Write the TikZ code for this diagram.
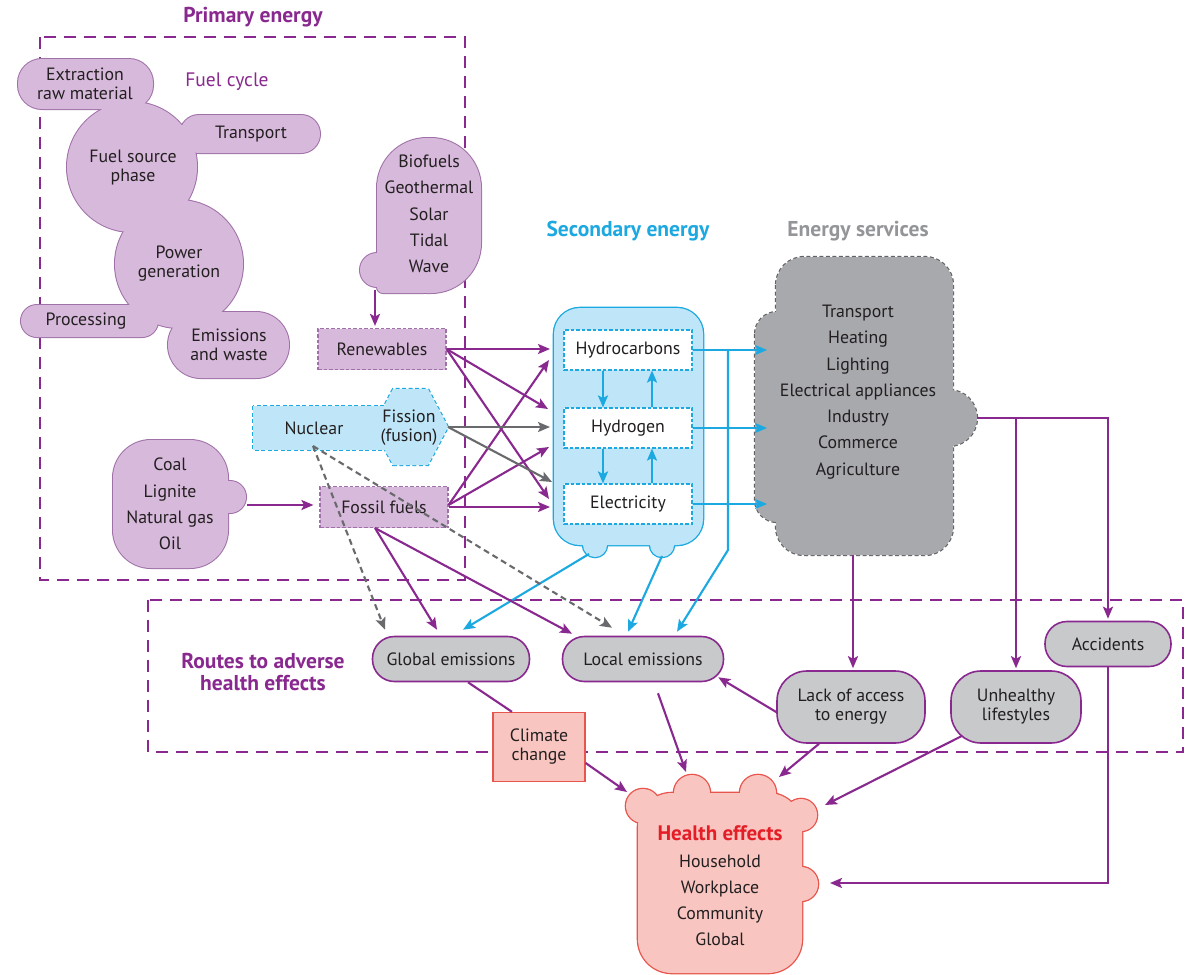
\documentclass[tikz,border=0pt]{standalone}
\usepackage{fontspec}
\setmainfont{PT Sans}
\usetikzlibrary{arrows.meta,calc}
\definecolor{purp}{RGB}{137,41,143}
\definecolor{lpurp}{RGB}{215,185,219}
\definecolor{purpedge}{RGB}{160,112,168}
\definecolor{cyanl}{RGB}{28,168,224}
\definecolor{lblue}{RGB}{190,230,248}
\definecolor{dgrey}{RGB}{167,169,172}
\definecolor{dgreyedge}{RGB}{98,98,100}
\definecolor{lgrey}{RGB}{200,201,203}
\definecolor{arrgrey}{RGB}{105,106,109}
\definecolor{pinkf}{RGB}{249,197,193}
\definecolor{redl}{RGB}{232,85,77}
\definecolor{redt}{RGB}{228,30,38}
\definecolor{txt}{RGB}{35,31,32}
\definecolor{estitle}{RGB}{147,149,152}

\newcommand{\FuelShapes}[1]{%
 \path[#1,rounded corners=24pt] (18,59) rectangle (153,109);
 \path[#1] (132,167) circle[radius=65pt];
 \path[#1,rounded corners=19pt] (180,115) rectangle (320,153);
 \path[#1] (179,264) circle[radius=64pt];
 \path[#1,rounded corners=16pt] (21,305) rectangle (158,337);
 \path[#1,rounded corners=33pt] (168,312) rectangle (289,378);
}
\newcommand{\RenShapes}[1]{%
 \path[#1,rounded corners=50pt] (377,138) rectangle (481,293);
 \path[#1,rounded corners=6pt] (377,230) rectangle (430,293);
 \path[#1] (377,270) circle[radius=17pt];
}
\newcommand{\CoalShapes}[1]{%
 \path[#1,rounded corners=38pt] (113,440) rectangle (228,568);
 \path[#1] (230,497) circle[radius=16pt];
}
\newcommand{\SecShapes}[1]{%
 \path[#1,rounded corners=26pt] (554,308) rectangle (703,545);
 \path[#1] (595,545) circle[radius=12pt];
 \path[#1] (662,545) circle[radius=12pt];
}
\newcommand{\ESShapes}[1]{%
 \path[#1,rounded corners=28pt] (776,257) rectangle (953,555);
 \path[#1,rounded corners=22pt] (755,312) rectangle (810,522);
 \path[#1] (949,418) circle[radius=28pt];
}
\newcommand{\NucShapes}[1]{%
 \path[#1] (253,406) rectangle (385,450);
 \path[#1] (373,427) -- (393,389) -- (428,389) -- (448,427) -- (428,465) -- (393,465) -- cycle;
}
\newcommand{\HealthShapes}[1]{%
 \path[#1,rounded corners=34pt] (638,793) rectangle (802,973);
 \path[#1] (643,806) circle[radius=17pt];
 \path[#1] (692,793) circle[radius=18pt];
 \path[#1] (758,793) circle[radius=18pt];
 \path[#1] (801,815) circle[radius=16pt];
 \path[#1] (801,884) circle[radius=17pt];
}

\begin{document}
\begin{tikzpicture}[x=1pt,y=-1pt,
  every node/.style={text=txt, font=\fontsize{17.8}{19}\selectfont, align=center, inner sep=0pt},
  listtxt/.style={font=\fontsize{17.8}{26.3}\selectfont},
  ttl/.style={font=\bfseries\fontsize{21.5}{22}\selectfont},
  arr/.style={-{Stealth[length=12pt,width=10pt,inset=2.5pt]}, line width=2.1pt},
  parr/.style={arr, draw=purp},
  carr/.style={arr, draw=cyanl},
  garr/.style={arr, draw=arrgrey},
  gdarr/.style={arr, draw=arrgrey, dash pattern=on 6pt off 4pt},
  regionbox/.style={draw=purp, line width=2.3pt, dash pattern=on 12pt off 8pt},
  pbox/.style={draw=purpedge, fill=lpurp, line width=1.1pt, dash pattern=on 3.5pt off 2pt, minimum width=128pt, minimum height=41pt},
  wbox/.style={draw=cyanl, fill=white, line width=1.1pt, dash pattern=on 3.5pt off 2pt, minimum width=128pt, minimum height=40pt},
  capsule/.style={draw=purp, fill=lgrey, line width=1.6pt, rounded corners=22pt, minimum height=45pt},
  capsuletwo/.style={draw=purp, fill=lgrey, line width=1.6pt, rounded corners=30pt, minimum height=72pt},
  climbox/.style={draw=redl, fill=pinkf, line width=1.3pt, minimum width=92pt, minimum height=69pt}
]
\fill[white] (0,0) rectangle (1195,975);
\useasboundingbox (0,0) rectangle (1195,975);

% region boxes
\draw[regionbox] (40,37) rectangle (465,580);
\draw[regionbox] (148,600) rectangle (1183,752);

% union shapes
\FuelShapes{draw=purpedge,line width=2pt}
\FuelShapes{fill=lpurp}
\RenShapes{draw=purpedge,line width=2pt}
\RenShapes{fill=lpurp}
\CoalShapes{draw=purpedge,line width=2pt}
\CoalShapes{fill=lpurp}
\NucShapes{draw=cyanl,line width=2.2pt,dash pattern=on 4pt off 2.5pt}
\NucShapes{fill=lblue}
\SecShapes{draw=cyanl,line width=2.6pt}
\SecShapes{fill=lblue}
\ESShapes{draw=dgreyedge,line width=2.2pt,dash pattern=on 4pt off 2.5pt}
\ESShapes{fill=dgrey}
\HealthShapes{draw=redl,line width=2.6pt}
\HealthShapes{fill=pinkf}

% titles
\node[ttl, text=purp] (pe) at (253,17) {Primary energy};
\node[text=purp, font=\fontsize{19.5}{20}\selectfont] (fc) at (227,82) {Fuel cycle};
\node[ttl, text=cyanl] (se) at (628,231) {Secondary energy};
\node[ttl, text=estitle] (est) at (858,231) {Energy services};
\node[ttl, text=purp] (rt) at (263,672) {Routes to adverse\\health effects};

% fuel cycle texts
\node (ext) at (85,84) {Extraction\\raw material};
\node (fuel) at (133,168) {Fuel source\\phase};
\node (trans) at (251,134) {Transport};
\node (power) at (179,264) {Power\\generation};
\node (proc) at (86,321) {Processing};
\node (emis) at (229,345) {Emissions\\and waste};
\node[listtxt] (renlist) at (429,214) {Biofuels\\Geothermal\\Solar\\Tidal\\Wave};
\node[listtxt] (coal) at (170,504) {Coal\\Lignite\\Natural gas\\Oil};
\node (nuc) at (314,428) {Nuclear};
\node (fis) at (409,428) {Fission\\(fusion)};

\node[pbox] (ren) at (382,349) {Renewables};
\node[pbox] (fos) at (384,507) {Fossil fuels};

% secondary
\node[wbox] (hc) at (628,350) {Hydrocarbons};
\node[wbox] (hy) at (628,428) {Hydrogen};
\node[wbox] (el) at (628,504) {Electricity};

% energy services
\node[listtxt] (es) at (858,392) {Transport\\Heating\\Lighting\\Electrical appliances\\Industry\\Commerce\\Agriculture};

% routes
\node[capsule, minimum width=157pt] (glob) at (451,659) {Global emissions};
\node[capsule, minimum width=161pt] (loc) at (643,659) {Local emissions};
\node[capsuletwo, minimum width=148pt] (lack) at (851,707) {Lack of access\\to energy};
\node[capsuletwo, minimum width=130pt] (unh) at (1016,707) {Unhealthy\\lifestyles};
\node[capsule, minimum width=126pt] (acc) at (1108,644) {Accidents};
\node[climbox] (clim) at (539,747) {Climate\\change};

% health
\node[listtxt] (health) at (720,886) {\textcolor{redt}{\bfseries\fontsize{21}{26}\selectfont Health effects}\\Household\\Workplace\\Community\\Global};

% coordinates
\coordinate (renbot) at (375,290);
\coordinate (coalbump) at (247,505);
\coordinate (fistip) at (448,427);
\coordinate (s1) at (550,349);
\coordinate (s2) at (548,409);
\coordinate (s3) at (549,499);
\coordinate (s4) at (549,360);
\coordinate (s5) at (549,447);
\coordinate (s6) at (550,507);
\coordinate (s7) at (550,427);
\coordinate (s8) at (552,482);
\coordinate (esin) at (767,400);
\coordinate (vtop) at (728,350);
\coordinate (vbot) at (728,550);
\coordinate (b1) at (589,554);
\coordinate (b2) at (662,556);
\coordinate (nucs) at (313,446);
\coordinate (esbot) at (853,555);
\coordinate (esR) at (977,418);
\coordinate (hR) at (830,883);
\coordinate (hT1) at (779,777);
\coordinate (hT2) at (825,805);
\coordinate (hT3) at (686,772);
\coordinate (hT4) at (627,792);

% primary connectors
\draw[parr] (renbot) -- ([yshift=2pt]renbot |- ren.north);
\draw[parr] (coalbump) -- ([xshift=-6pt]fos.west |- coalbump);
\draw[parr] (ren.east) -- (s1);
\draw[parr] (ren.east) -- (s2);
\draw[parr] (ren.east) -- (s3);
\draw[parr] ([yshift=2pt]fos.east) -- (s4);
\draw[parr] ([yshift=2pt]fos.east) -- (s5);
\draw[parr] (fos.east) -- (s6);
\draw[garr] (fistip) -- (s7);
\draw[garr] (fistip) -- (s8);

% secondary internal
\draw[carr] ([xshift=-25pt]hc.south) -- ([xshift=-25pt]hy.north);
\draw[carr] ([xshift=24pt]hy.north) -- ([xshift=24pt]hc.south);
\draw[carr] ([xshift=-25pt]hy.south) -- ([xshift=-25pt]el.north);
\draw[carr] ([xshift=24pt]el.north) -- ([xshift=24pt]hy.south);

% secondary -> services
\draw[carr] (hc.east) -- (hc.east -| esin);
\draw[carr] (hy.east) -- (hy.east -| esin);
\draw[carr] (el.east) -- (el.east -| esin);
\draw[carr] (vtop) -- (vbot) -- ([xshift=34pt,yshift=4pt]loc.north);
\draw[carr] (b1) -- ([xshift=12pt,yshift=6pt]glob.north);
\draw[carr] (b2) -- ([xshift=-15pt,yshift=4pt]loc.north);

% to emissions
\draw[gdarr] (nucs) -- ([xshift=-66pt,yshift=6pt]glob.north);
\draw[gdarr] (nucs) -- ([xshift=-31pt,yshift=8pt]loc.north);
\draw[parr] ([xshift=-9pt]fos.south) -- ([xshift=-14pt,yshift=6pt]glob.north);
\draw[parr] ([xshift=-9pt]fos.south) -- ([xshift=-71pt,yshift=2pt]loc.north);

% services -> routes
\draw[parr] (esbot) -- ([yshift=2pt]esbot |- lack.north);
\draw[parr] (esR) -- (esR -| acc.north) -- ([yshift=2pt]acc.north);
\draw[parr] (esR -| unh.north) -- ([yshift=2pt]unh.north);
\draw[parr] (acc.south) -- (acc.south |- hR) -- (hR);

% routes -> health
\draw[parr] ([yshift=-5pt]lack.west) -- ([xshift=-6pt,yshift=5pt]loc.south east);
\draw[parr] ([xshift=-32pt]lack.south) -- (hT1);
\draw[parr] ([xshift=12pt,yshift=8pt]unh.south west) -- (hT2);
\draw[parr] ([xshift=15pt,yshift=-11pt]loc.south) -- (hT3);
\draw[parr] ([yshift=-16pt]clim.east) -- (hT4);
\draw[purp, line width=2.1pt] ([xshift=17pt]glob.south) -- ([xshift=-27pt]clim.north);
\end{tikzpicture}
\end{document}
